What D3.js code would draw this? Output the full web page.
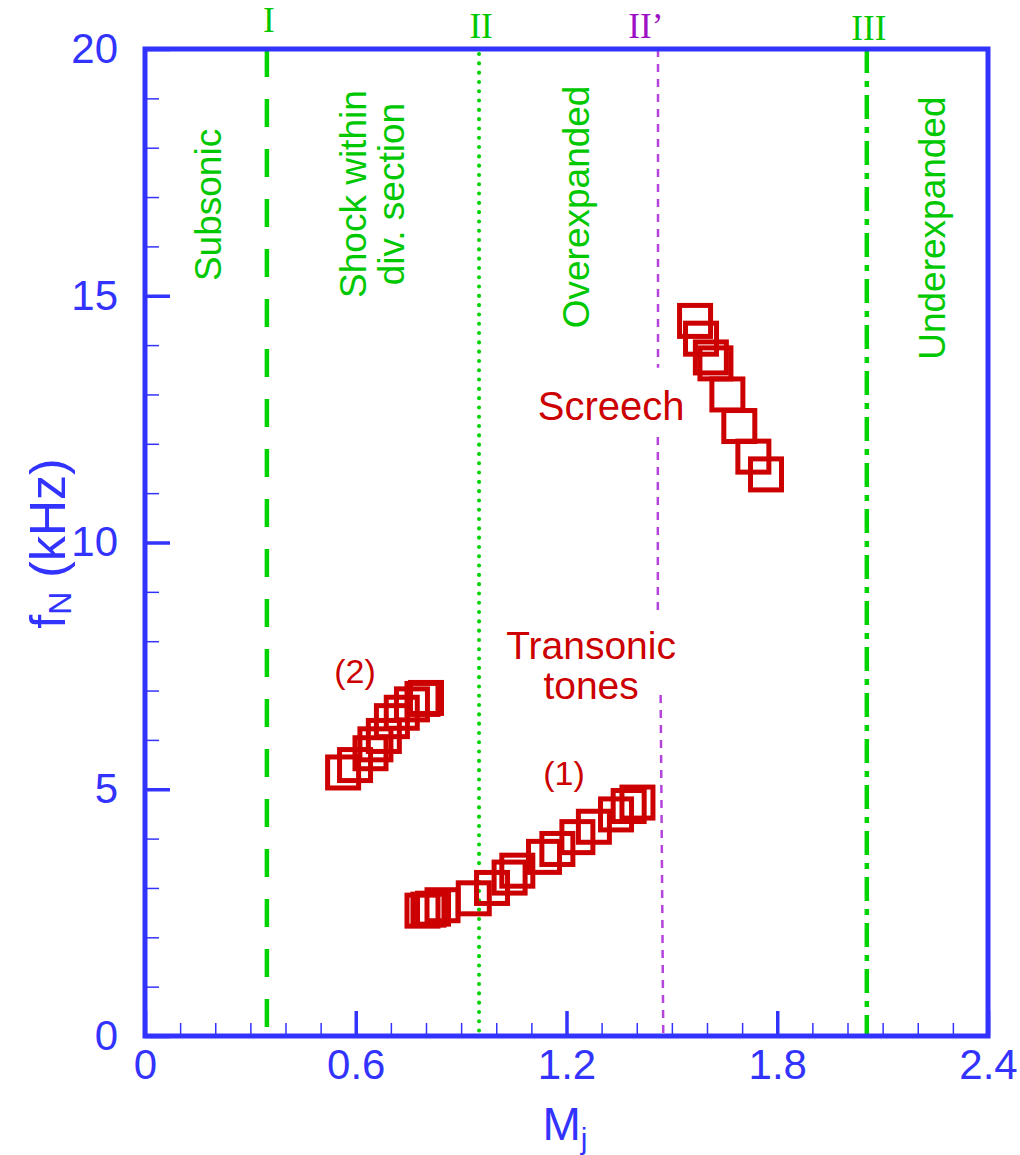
<!DOCTYPE html>
<html>
<head>
<meta charset="utf-8">
<script src="https://cdn.jsdelivr.net/npm/d3@7"></script>
<style>
  html, body { margin: 0; padding: 0; background: #fff; }
  svg { display: block; }
</style>
</head>
<body>
<svg id="chart" width="1020" height="1155"></svg>
<script>
// ---- data -------------------------------------------------------------
// Transonic tones, branch (1): jet Mach number vs. normalised frequency (kHz)
const tonesBranch1 = [
  [0.790, 2.54], [0.807, 2.56], [0.820, 2.58], [0.847, 2.65],
  [0.936, 2.79], [0.988, 3.00], [1.038, 3.21], [1.060, 3.35],
  [1.136, 3.63], [1.174, 3.79], [1.231, 4.03], [1.278, 4.24],
  [1.341, 4.49], [1.377, 4.66], [1.402, 4.73]
];
// Transonic tones, branch (2)
const tonesBranch2 = [
  [0.564, 5.34], [0.598, 5.49], [0.642, 5.73], [0.656, 5.91],
  [0.680, 6.08], [0.703, 6.38], [0.731, 6.55], [0.760, 6.72],
  [0.790, 6.83], [0.800, 6.85]
];
// Screech
const screech = [
  [1.566, 14.49], [1.583, 14.13], [1.611, 13.75], [1.624, 13.63],
  [1.658, 13.00], [1.692, 12.36], [1.732, 11.74], [1.768, 11.38]
];

// regime boundaries (Mach number)
const boundaryNames = ["I", "II", "II\u2019", "III"];
const boundaryMach  = [0.347, 0.951, 1.460, 2.055];
// II' is drawn in pieces (gaps around the annotations)
const boundaryIIprime = [
  [[1.4605, 20], [1.4605, 13.54]],
  [[1.4600, 12.14], [1.4600, 8.63]],
  [[1.468, 6.91], [1.4755, 0]]
];

const xMajorTicks = [0, 0.6, 1.2, 1.8, 2.4];
const xTickLabels = ["0", "0.6", "1.2", "1.8", "2.4"];
const yMajorTicks = [0, 5, 10, 15, 20];
const yTickLabels = ["0", "5", "10", "15", "20"];

// ---- layout -------------------------------------------------------------
const BLUE = "#3333ff", GREEN = "#00c800", LINE_GREEN = "#00d400", RED = "#cc0000",
      PURPLE = "#b444dc", PURPLE_TXT = "#9d10c4";
const SANS = "'Liberation Sans', Arial, sans-serif";
const SERIF = "'Liberation Serif', 'Times New Roman', serif";

const svg = d3.select("#chart");
const x = d3.scaleLinear().domain([0, 2.4]).range([145, 988]);
const y = d3.scaleLinear().domain([0, 20]).range([1036, 49]);

// ---- boundary lines -----------------------------------------------------
const lines = svg.append("g").attr("fill", "none");
const vline = (m) => d3.line()([[x(m), y(20)], [x(m), y(0)]]);

lines.append("path").attr("d", vline(boundaryMach[0]))
  .attr("stroke", LINE_GREEN).attr("stroke-width", 4.5)
  .attr("stroke-dasharray", "28 22");
lines.append("path").attr("d", d3.line()([[x(boundaryMach[1]), y(20) + 5], [x(boundaryMach[1]), y(0) - 4]]))
  .attr("stroke", LINE_GREEN).attr("stroke-width", 4).attr("stroke-linecap", "round")
  .attr("stroke-dasharray", "0.1 9.2");
lines.append("path").attr("d", vline(boundaryMach[3]))
  .attr("stroke", LINE_GREEN).attr("stroke-width", 4.5)
  .attr("stroke-dasharray", "24 8 6 8");
boundaryIIprime.forEach(seg => {
  lines.append("path").attr("d", d3.line().x(d => x(d[0])).y(d => y(d[1]))(seg))
    .attr("stroke", PURPLE).attr("stroke-width", 2.5)
    .attr("stroke-dasharray", "8 7");
});

// boundary names above the frame
const nameBaseline = [32, 38, 38, 40];
const nameColor = [GREEN, GREEN, PURPLE_TXT, GREEN];
svg.append("g").selectAll("text").data(boundaryNames).join("text")
  .attr("x", (d, i) => x(boundaryMach[i]) + (i === 2 ? -12 : 2))
  .attr("y", (d, i) => nameBaseline[i])
  .attr("text-anchor", "middle")
  .attr("font-family", SERIF).attr("font-size", 35)
  .attr("fill", (d, i) => nameColor[i])
  .text(d => d);

// ---- regime labels (vertical) --------------------------------------------
const regimeLabels = [
  { lines: ["Subsonic"], m: [0.216], f: 16.84 },
  { lines: ["Shock within", "div. section"], m: [0.629, 0.737], f: 17.06 },
  { lines: ["Overexpanded"], m: [1.265], f: 16.80 },
  { lines: ["Underexpanded"], m: [2.278], f: 16.37 }
];
const rg = svg.append("g").attr("font-family", SANS).attr("font-size", 37)
  .attr("fill", GREEN).attr("text-anchor", "middle");
regimeLabels.forEach(r => {
  r.lines.forEach((t, i) => {
    rg.append("text")
      .attr("transform", `translate(${x(r.m[i])},${y(r.f)}) rotate(-90)`)
      .text(t);
  });
});

// ---- data annotations ------------------------------------------------------
const notes = [
  { text: "Screech", m: 1.327, f: 12.48, size: 40 },
  { text: "Transonic", m: 1.27, f: 7.64, size: 39 },
  { text: "tones", m: 1.27, f: 6.83, size: 39 },
  { text: "(1)", m: 1.193, f: 5.09, size: 34 },
  { text: "(2)", m: 0.598, f: 7.15, size: 34 }
];
svg.append("g").selectAll("text").data(notes).join("text")
  .attr("x", d => x(d.m)).attr("y", d => y(d.f))
  .attr("text-anchor", "middle")
  .attr("font-family", SANS).attr("font-size", d => d.size)
  .attr("fill", RED)
  .text(d => d.text);

// ---- markers --------------------------------------------------------------
const SIDE = 31;
const marks = svg.append("g").attr("fill", "none").attr("stroke", RED).attr("stroke-width", 5);
[tonesBranch1, tonesBranch2, screech].forEach(series => {
  marks.append("g").selectAll("rect").data(series).join("rect")
    .attr("x", d => x(d[0]) - SIDE / 2)
    .attr("y", d => y(d[1]) - SIDE / 2)
    .attr("width", SIDE).attr("height", SIDE);
});

// ---- axes ----------------------------------------------------------------
const xMinor = d3.range(1, 24).map(i => i / 10).filter(v => Math.abs(v / 0.6 - Math.round(v / 0.6)) > 1e-6);
const yMinor = d3.range(1, 20).filter(v => v % 5 !== 0);

const gxMinor = svg.append("g").attr("transform", `translate(0,${y(0)})`)
  .call(d3.axisBottom(x).tickValues(xMinor).tickSize(-13).tickFormat(""));
gxMinor.selectAll("line").attr("stroke", BLUE).attr("stroke-width", 1.5);

const gyMinor = svg.append("g").attr("transform", `translate(${x(0)},0)`)
  .call(d3.axisLeft(y).tickValues(yMinor).tickSize(-14).tickFormat(""));
gyMinor.selectAll("line").attr("stroke", BLUE).attr("stroke-width", 1.5);

const gx = svg.append("g").attr("transform", `translate(0,${y(0)})`)
  .call(d3.axisBottom(x).tickValues(xMajorTicks).tickSize(-25).tickPadding(13)
    .tickFormat((d, i) => xTickLabels[i]));
gx.selectAll("line").attr("stroke", BLUE).attr("stroke-width", 3.5);

const gy = svg.append("g").attr("transform", `translate(${x(0)},0)`)
  .call(d3.axisLeft(y).tickValues(yMajorTicks).tickSize(-25).tickPadding(27)
    .tickFormat((d, i) => yTickLabels[i]));
gy.selectAll("line").attr("stroke", BLUE).attr("stroke-width", 3.5);

[gxMinor, gyMinor, gx, gy].forEach(g => g.select(".domain").remove());
[gx, gy].forEach(g => g.selectAll("text")
  .attr("fill", BLUE).attr("font-family", SANS).attr("font-size", 42));

// frame
svg.append("rect")
  .attr("x", x(0)).attr("y", y(20))
  .attr("width", x(2.4) - x(0)).attr("height", y(0) - y(20))
  .attr("fill", "none").attr("stroke", BLUE).attr("stroke-width", 5);

// axis titles
svg.append("text")
  .attr("transform", `translate(65,${(y(0) + y(20)) / 2 + 1}) rotate(-90)`)
  .attr("text-anchor", "middle").attr("font-family", SANS).attr("font-size", 50)
  .attr("fill", BLUE)
  .call(t => {
    t.append("tspan").text("f");
    t.append("tspan").attr("font-size", 32).attr("dy", 6).text("N");
    t.append("tspan").attr("dy", -6).text(" (kHz)");
  });

svg.append("text")
  .attr("x", 565).attr("y", 1140)
  .attr("text-anchor", "middle").attr("font-family", SANS).attr("font-size", 46)
  .attr("fill", BLUE)
  .call(t => {
    t.append("tspan").text("M");
    t.append("tspan").attr("font-size", 30).attr("dy", 9).text("j");
  });
</script>
</body>
</html>
